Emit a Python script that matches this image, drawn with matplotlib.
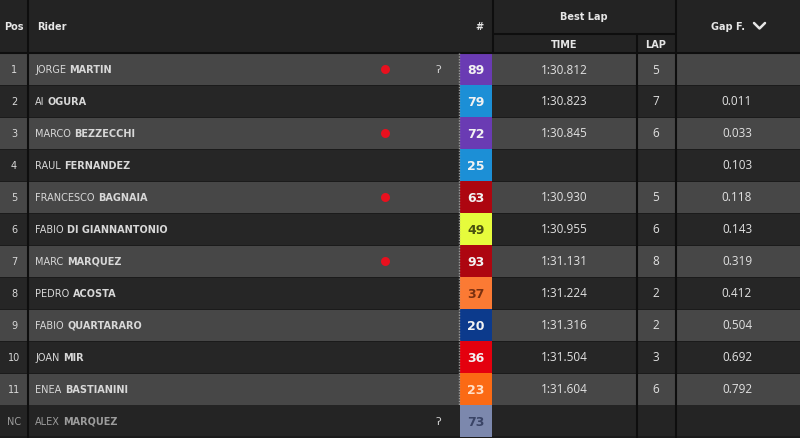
import matplotlib
matplotlib.use("Agg")
import matplotlib.pyplot as plt

# table data
positions = ["1", "2", "3", "4", "5", "6", "7", "8", "9", "10", "11", "NC"]
first_names = ["JORGE", "AI", "MARCO", "RAUL", "FRANCESCO", "FABIO", "MARC",
               "PEDRO", "FABIO", "JOAN", "ENEA", "ALEX"]
last_names = ["MARTIN", "OGURA", "BEZZECCHI", "FERNANDEZ", "BAGNAIA",
              "DI GIANNANTONIO", "MARQUEZ", "ACOSTA", "QUARTARARO", "MIR",
              "BASTIANINI", "MARQUEZ"]
numbers = ["89", "79", "72", "25", "63", "49", "93", "37", "20", "36", "23", "73"]
lap_times = ["1:30.812", "1:30.823", "1:30.845", "", "1:30.930", "1:30.955",
             "1:31.131", "1:31.224", "1:31.316", "1:31.504", "1:31.604", ""]
laps = ["5", "7", "6", "", "5", "6", "8", "2", "2", "3", "6", ""]
gaps = ["", "0.011", "0.033", "0.103", "0.118", "0.143", "0.319", "0.412",
        "0.504", "0.692", "0.792", ""]
red_dot = [True, False, True, False, True, False, True, False, False, False, False, False]
icon = [True, False, False, False, False, False, False, False, False, False, False, True]

badge_colors = ["#6a3bb3", "#1c8fd6", "#6a3bb3", "#1c8fd6", "#ad0610", "#e6fb3c",
                "#ad0610", "#fb7a34", "#0c3a8c", "#e4000e", "#fb6a14", "#7c88ad"]
badge_text = ["#f2f2f2", "#f2f2f2", "#f2f2f2", "#f2f2f2", "#f2f2f2", "#4a5010",
              "#f2f2f2", "#7a3010", "#f2f2f2", "#f2f2f2", "#ffe0c8", "#3a4466"]

W, H = 800, 439
HEAD = 54
ROW = 32

fig = plt.figure(figsize=(8, 4.39), dpi=100, facecolor="#1b1b1b")
ax = fig.add_axes([0, 0, 1, 1])
ax.set_xlim(0, W)
ax.set_ylim(H, 0)
ax.axis("off")
ax.set_facecolor("#1b1b1b")

n = len(positions)
centers = [HEAD + ROW / 2 + i * ROW for i in range(n)]
row_cols = ["#474747" if i % 2 == 0 else "#262626" for i in range(n)]
row_cols[-1] = "#242424"

# header background
ax.barh(HEAD / 2, W, height=HEAD, left=0, color="#232323", zorder=0)
# rows
ax.barh(centers, W, height=ROW - 1, left=0, color=row_cols, zorder=1)
# badges
ax.barh(centers, 32, height=ROW, left=460, color=badge_colors, zorder=3)

# grid lines
lc = "#0e0e0e"
ax.vlines(27.5, 0, H, color=lc, lw=1.5, zorder=4)
ax.vlines(493, 0, HEAD, color=lc, lw=1.5, zorder=4)
ax.vlines(675.5, 0, H, color=lc, lw=1.5, zorder=4)
ax.vlines(636.5, 35, H, color=lc, lw=1.5, zorder=4)
ax.hlines(35, 493, 675, color=lc, lw=1.5, zorder=4)
ax.hlines(HEAD, 0, W, color=lc, lw=1.5, zorder=4)
ax.vlines(458.5, HEAD, HEAD + ROW * (n - 1), color="#9a9a9a", lw=1.0,
          linestyles=(0, (1, 1)), zorder=4)

# header text
hc = "#e6e6e6"
hkw = dict(color=hc, fontsize=7, fontweight="bold", va="center", family="DejaVu Sans")
ax.text(4, 27, "Pos", ha="left", **hkw)
ax.text(37, 27, "Rider", ha="left", **hkw)
ax.text(479, 27, "#", ha="center", **hkw)
ax.text(584, 17, "Best Lap", ha="center", **hkw)
ax.text(564, 45, "TIME", ha="center", **hkw)
ax.text(656, 45, "LAP", ha="center", **hkw)
ax.text(728, 27, "Gap F.", ha="center", **hkw)
ax.plot([754, 759.5, 765], [24, 29.5, 24], color=hc, lw=1.8, solid_capstyle="round", zorder=5)

# rows text
for i in range(n):
    y = centers[i]
    nc = positions[i] == "NC"
    tc = "#9c9c9c" if nc else "#d8d8d8"
    ax.text(14, y, positions[i], ha="center", va="center", color=tc,
            fontsize=7, family="DejaVu Sans", zorder=5)
    t = ax.text(35, y, first_names[i], ha="left", va="center", color=tc,
                fontsize=7, family="DejaVu Sans", zorder=5)
    ax.annotate(last_names[i], xy=(1, 0.5), xycoords=t, xytext=(2.5, 0),
                textcoords="offset points", ha="left", va="center", color=tc,
                fontsize=7, fontweight="bold", family="DejaVu Sans", zorder=5)
    if icon[i]:
        ax.text(438, y, "ʔ", ha="center", va="center", color="#d0d0d0",
                fontsize=8, family="DejaVu Sans", zorder=5)
    ax.text(476, y + 0.5, numbers[i], ha="center", va="center", color=badge_text[i],
            fontsize=9, fontweight="bold", family="DejaVu Sans", zorder=5)
    vkw = dict(ha="center", va="center", color="#e2e2e2", fontsize=8.5,
               family="Open Sans", zorder=5)
    ax.text(564, y, lap_times[i], **vkw)
    ax.text(656, y, laps[i], **vkw)
    ax.text(737, y, gaps[i], **vkw)

# red dots
dot_y = [centers[i] for i in range(n) if red_dot[i]]
ax.scatter([385] * len(dot_y), dot_y, s=42, color="#e8101e", zorder=5, linewidths=0)

fig.savefig("out.png", dpi=100, facecolor=fig.get_facecolor())
